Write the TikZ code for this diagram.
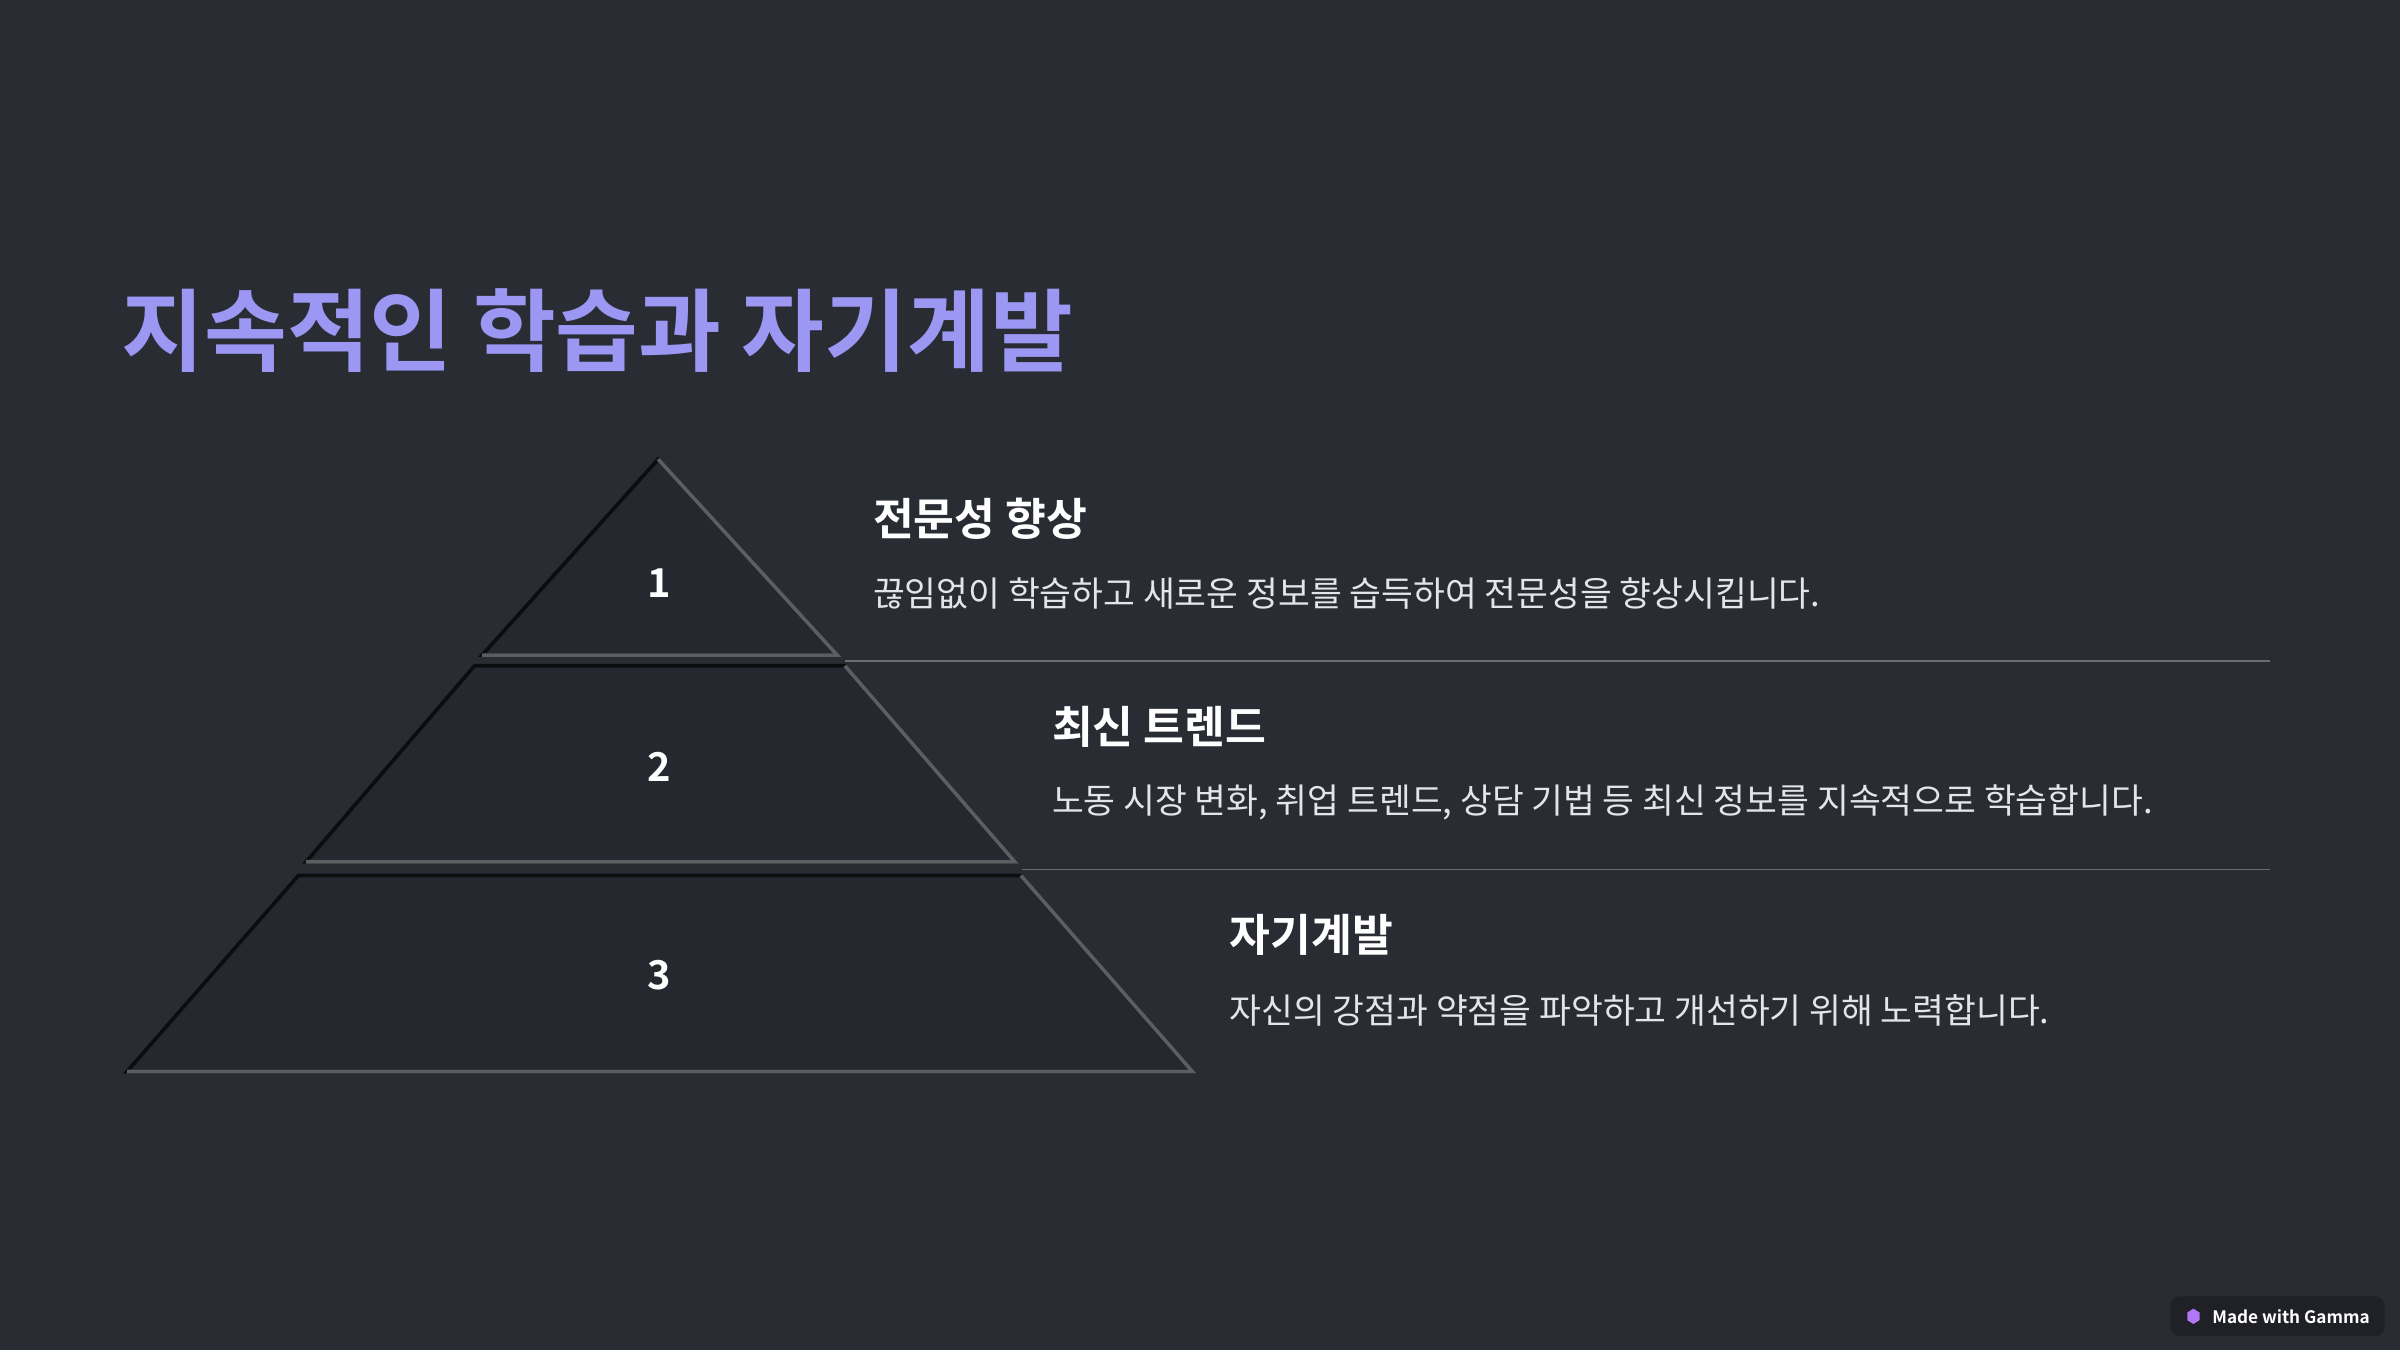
\documentclass[tikz,border=0pt]{standalone}
\usepackage{fontspec}
\setmainfont{Noto Sans CJK KR}
\newfontfamily\kb{Noto Sans CJK KR Bold}
\definecolor{bg}{HTML}{292C33}
\definecolor{fillc}{HTML}{25282F}
\definecolor{titlec}{HTML}{9B97F2}
\definecolor{desc}{HTML}{E4E4EA}
\definecolor{sep}{HTML}{6A6D74}
\begin{document}
\begin{tikzpicture}[x=0.5pt,y=-0.5pt,
  layer/.style={fill=fillc,draw=black!70!bg,line width=1.2pt},
  hl/.style={draw=gray!60!bg,line width=1.2pt},
  num/.style={text=white,font=\kb\fontsize{13}{15}\selectfont},
  head/.style={anchor=west,inner sep=0pt,text=white,font=\kb\fontsize{14.5}{17}\selectfont},
  body/.style={anchor=west,inner sep=0pt,text=desc,font=\fontsize{11.3}{13}\selectfont},
  sepline/.style={draw=sep,line width=0.5pt}]
\fill[bg] (0,0) rectangle (1568,882);
\useasboundingbox (0,0) rectangle (1568,882);
\node[anchor=west,inner sep=0pt,text=titlec,font=\kb\fontsize{29.4}{34}\selectfont] (title) at (79,216) {지속적인 학습과 자기계발};
% layers
\draw[layer] (430,300) -- (547,428) -- (315,428) -- cycle;
\draw[hl] (430,300) -- (547,428) -- (315,428);
\draw[layer] (310,435) -- (552,435) -- (663,563) -- (200,563) -- cycle;
\draw[hl] (552,435) -- (663,563) -- (200,563);
\draw[layer] (195,572) -- (667,572) -- (779,700) -- (83,700) -- cycle;
\draw[hl] (667,572) -- (779,700) -- (83,700);
\node[num] (n1) at (431,381) {1};
\node[num] (n2) at (431,501) {2};
\node[num] (n3) at (431,637) {3};
\coordinate (s1a) at (552,432); \coordinate (s1b) at (1483,432);
\coordinate (s2a) at (668,568); \coordinate (s2b) at (1483,568);
\draw[sepline] (s1a) -- (s1b);
\draw[sepline] (s2a) -- (s2b);
\node[head] (h1) at (570,339) {전문성 향상};
\node[body] (b1) at (570,388) {끊임없이 학습하고 새로운 정보를 습득하여 전문성을 향상시킵니다.};
\node[head] (h2) at (687,475) {최신 트렌드};
\node[body] (b2) at (687,524) {노동 시장 변화, 취업 트렌드, 상담 기법 등 최신 정보를 지속적으로 학습합니다.};
\node[head] (h3) at (803,611) {자기계발};
\node[body] (b3) at (803,660) {자신의 강점과 약점을 파악하고 개선하기 위해 노력합니다.};
% badge
\fill[fill=black!25!bg,rounded corners=3pt] (1418,847) rectangle (1558,873);
\node[anchor=west,inner sep=0pt,text=white,font=\kb\fontsize{5.6}{7}\selectfont] (badge) at (1445,860) {Made with Gamma};
\fill[titlec!80!magenta] (1433,855) -- (1437,857.5) -- (1437,862.5) -- (1433,865) -- (1429,862.5) -- (1429,857.5) -- cycle;
\end{tikzpicture}
\end{document}
